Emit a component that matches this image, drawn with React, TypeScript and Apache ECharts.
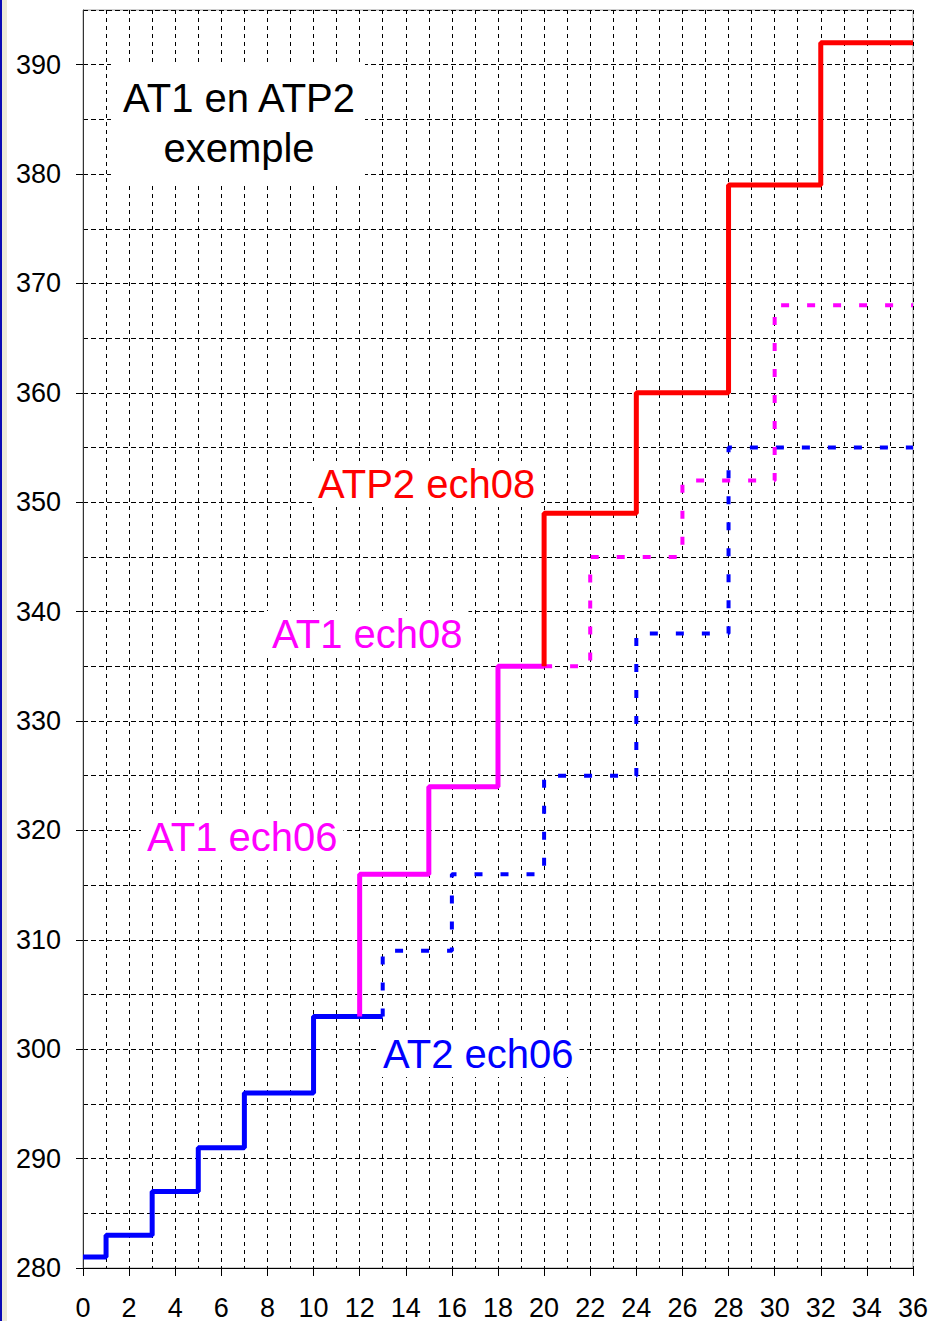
import React, { useEffect, useRef } from "react";
import * as echarts from "echarts";

// ---- data ----
const at2SolidX = [0, 1, 3, 5, 7, 10, 13];
const at2SolidY = [281, 283, 287, 291, 296, 303, 303];
const at2DashX = [13, 13, 16, 20, 24, 28, 36];
const at2DashY = [303, 309, 316, 325, 338, 355, 355];
const at1SolidX = [12, 12, 15, 18, 20];
const at1SolidY = [303, 316, 324, 335, 335];
const at1DashX = [20, 22, 26, 30, 36];
const at1DashY = [335, 345, 352, 368, 368];
const atp2X = [20, 20, 24, 28, 32, 36];
const atp2Y = [335, 349, 360, 379, 392, 392];

const titleLines = ["AT1 en ATP2", "exemple"];
const seriesLabels = ["ATP2 ech08", "AT1 ech08", "AT1 ech06", "AT2 ech06"];

const zip = (xs: number[], ys: number[]) => xs.map((x, i) => [x, ys[i]]);

const FONT = "'Liberation Sans', Arial, sans-serif";
const BLUE = "#0000ff";
const MAGENTA = "#ff00ff";
const RED = "#ff0000";

export default function App() {
  const ref = useRef<HTMLDivElement>(null);
  useEffect(() => {
    if (!ref.current) return;
    const chart = echarts.init(ref.current, undefined, { renderer: "svg" });
    const lineSeries = (
      data: number[][],
      color: string,
      width: number,
      dashed: boolean,
      z: number
    ) => ({
      type: "line",
      data,
      step: "end",
      symbol: "none",
      z,
      lineStyle: {
        color,
        width,
        type: dashed ? [8, 18] : "solid",
        cap: "butt",
      },
    });
    const label = (text: string, x: number, y: number, color: string) => ({
      type: "text",
      x,
      y,
      z: 101,
      style: {
        text,
        fill: color,
        font: `40px ${FONT}`,
        textVerticalAlign: "middle",
        backgroundColor: "#fff",
        padding: [3, 6],
      },
    });
    chart.setOption({
      animation: false,
      backgroundColor: "#ffffff",
      grid: {
        left: 83,
        top: 10,
        width: 831,
        height: 1258,
        show: true,
        borderColor: "#a0a0a0",
        borderWidth: 1,
        backgroundColor: "transparent",
      },
      xAxis: {
        type: "value",
        min: 0,
        max: 36,
        interval: 2,
        axisLine: { show: true, onZero: false, lineStyle: { color: "#000", width: 1 } },
        axisTick: { show: true, length: 8, lineStyle: { color: "#000" } },
        axisLabel: {
          fontSize: 27,
          color: "#000",
          fontFamily: FONT,
          margin: 26,
          showMaxLabel: true,
          showMinLabel: true,
        },
        splitLine: { show: true, lineStyle: { color: "#000", width: 1, type: [4, 4] } },
        minorTick: { show: false, splitNumber: 2 },
        minorSplitLine: { show: true, lineStyle: { color: "#000", width: 1, type: [4, 4] } },
      },
      yAxis: {
        type: "value",
        min: 280,
        max: 395,
        interval: 10,
        axisLine: { show: true, onZero: false, lineStyle: { color: "#333", width: 1 } },
        axisTick: { show: true, length: 7, lineStyle: { color: "#000" } },
        axisLabel: {
          fontSize: 27,
          color: "#000",
          fontFamily: FONT,
          margin: 22,
          showMaxLabel: false,
        },
        splitLine: { show: true, lineStyle: { color: "#000", width: 1, type: [5, 3] } },
        minorTick: { show: false, splitNumber: 2 },
        minorSplitLine: { show: true, lineStyle: { color: "#000", width: 1, type: [5, 3] } },
      },
      series: [
        lineSeries(zip(at2DashX, at2DashY), BLUE, 4, true, 3),
        lineSeries(zip(at1DashX, at1DashY), MAGENTA, 4, true, 4),
        lineSeries(zip(at2SolidX, at2SolidY), BLUE, 5, false, 5),
        lineSeries(zip(at1SolidX, at1SolidY), MAGENTA, 5, false, 6),
        lineSeries(zip(atp2X, atp2Y), RED, 5, false, 7),
      ],
      graphic: [
        { type: "rect", shape: { x: 0, y: 0, width: 2, height: 1321 }, style: { fill: "#0a0ab4" }, z: 200 },
        { type: "rect", shape: { x: 2, y: 0, width: 5, height: 1321 }, style: { fill: "#ece9d8" }, z: 200 },
        { type: "rect", shape: { x: 111, y: 64, width: 254, height: 119 }, style: { fill: "#ffffff" }, z: 100 },
        {
          type: "text",
          x: 239,
          y: 98,
          z: 101,
          style: { text: titleLines[0], fill: "#000", font: `40px ${FONT}`, textAlign: "center", textVerticalAlign: "middle" },
        },
        {
          type: "text",
          x: 239,
          y: 148,
          z: 101,
          style: { text: titleLines[1], fill: "#000", font: `40px ${FONT}`, textAlign: "center", textVerticalAlign: "middle" },
        },
        label(seriesLabels[0], 312, 484, RED),
        label(seriesLabels[1], 266, 634, MAGENTA),
        label(seriesLabels[2], 141, 837, MAGENTA),
        label(seriesLabels[3], 377, 1054, BLUE),
      ],
    });
    return () => chart.dispose();
  }, []);
  return (
    <div
      ref={ref}
      style={{ position: "absolute", left: 0, top: 0, width: 931, height: 1321, background: "#fff" }}
    />
  );
}
